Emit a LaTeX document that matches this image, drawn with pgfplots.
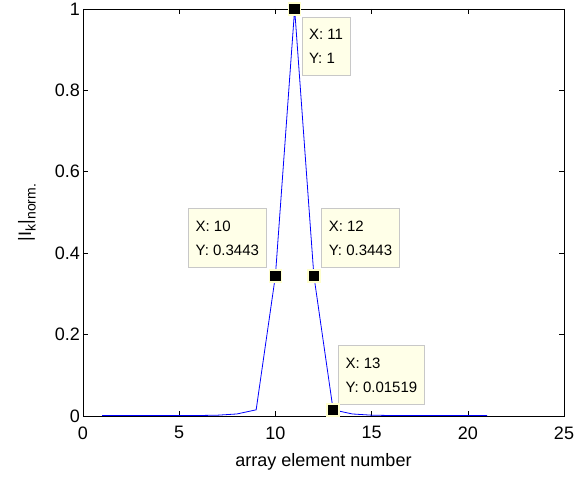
\documentclass[border=0pt]{standalone}
\usepackage{fontspec}
\setmainfont{Liberation Sans}
\usepackage{pgfplots}
\pgfplotsset{compat=1.18}
\definecolor{tipfill}{RGB}{255,255,232}
\definecolor{tipdraw}{RGB}{200,200,200}
\definecolor{markedge}{RGB}{255,255,205}
\newcommand{\sub}[1]{\raisebox{-4.5bp}{\fontsize{14bp}{14bp}\selectfont #1}}
\begin{document}
\begin{tikzpicture}
\path[use as bounding box] (0,0) rectangle (585bp,477bp);
\begin{axis}[
  at={(83bp,61bp)}, anchor=south west,
  scale only axis, width=481bp, height=407bp,
  xmin=0, xmax=25, ymin=0, ymax=1,
  xtick={0,5,...,25}, ytick={0,0.2,...,1},
  yticklabels={0,0.2,0.4,0.6,0.8,1},
  tick align=inside, tick pos=both,
  major tick length=5bp,
  axis line style={line width=0.8bp},
  tick style={line width=0.6bp, black},
  clip=false,
  /pgf/number format/assume math mode=true,
  tick label style={font=\fontsize{18bp}{21bp}\selectfont},
  xticklabel style={yshift=-7bp},
  yticklabel style={xshift=0.5bp},
  xlabel={array element number},
  ylabel={|I\sub{k}|\sub{norm.}},
  label style={font=\fontsize{18bp}{21bp}\selectfont},
  xlabel style={at={(axis description cs:0.5,0)}, anchor=base, yshift=-50bp},
  ylabel style={at={(axis description cs:-0.108,0.5)}, anchor=base},
]
\addplot[blue, line width=0.8bp, mark=none] coordinates {
 (1,0.001) (2,0.001) (3,0.001) (4,0.001) (5,0.001) (6,0.0012) (7,0.002)
 (8,0.005) (9,0.01519) (10,0.3443) (11,1) (12,0.3443) (13,0.01519)
 (14,0.005) (15,0.002) (16,0.0012) (17,0.001) (18,0.001) (19,0.001)
 (20,0.001) (21,0.001)
};
\addplot[only marks, mark=square*, mark size=6bp,
  mark options={fill=black, draw=markedge, line width=1.6bp}] coordinates {
 (10,0.3443) (11,1) (12,0.3443) (13,0.01519)
};
\tikzset{tip/.style={draw=tipdraw, fill=tipfill, line width=0.8bp, align=left,
  inner xsep=7bp, inner ysep=12bp, font=\fontsize{15bp}{24bp}\selectfont}}
\node[tip, anchor=north west, xshift=7bp, yshift=-8bp] at (axis cs:11,1) {X: 11\\Y: 1};
\node[tip, anchor=south east, xshift=-9bp, yshift=8bp] at (axis cs:10,0.3443) {X: 10\\Y: 0.3443};
\node[tip, anchor=south west, xshift=7.5bp, yshift=8bp] at (axis cs:12,0.3443) {X: 12\\Y: 0.3443};
\node[tip, anchor=south west, xshift=5bp, yshift=5bp] at (axis cs:13,0.01519) {X: 13\\Y: 0.01519};
\end{axis}
\end{tikzpicture}
\end{document}
